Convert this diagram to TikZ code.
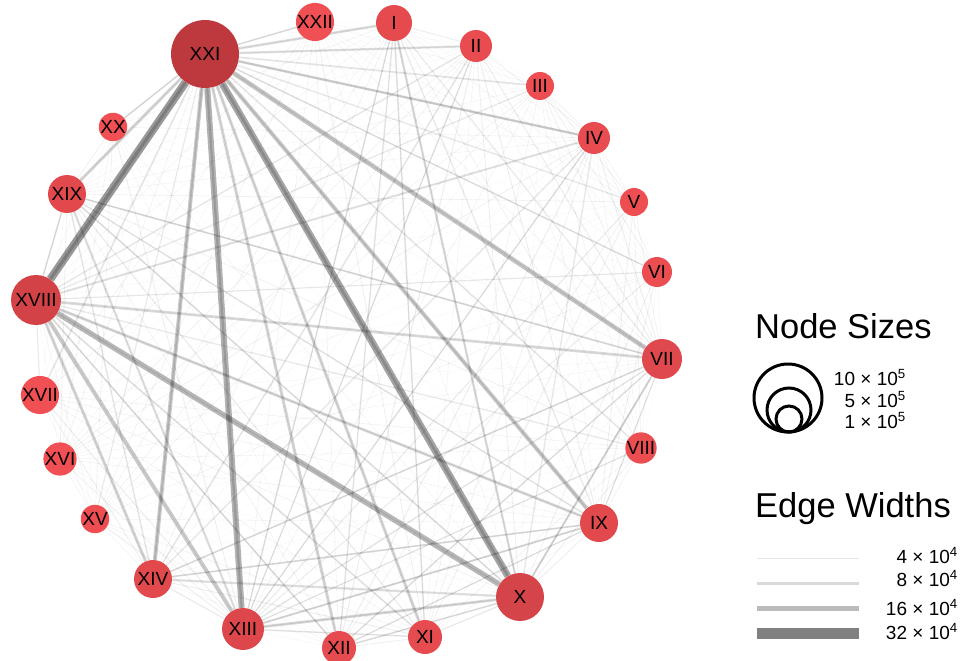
\documentclass[tikz,border=0pt]{standalone}
\usepackage{fontspec}
\setmainfont{Liberation Sans}
\pgfdeclarelayer{bg}
\pgfsetlayers{bg,main}
\definecolor{nlight}{HTML}{F04F53}
\definecolor{ndark}{HTML}{BD393D}
\begin{document}
\begin{tikzpicture}[x=1pt,y=-1pt,
  netnode/.style={circle, inner sep=0pt, font=\fontsize{19}{19}\selectfont},
  legtitle/.style={anchor=base west, inner sep=0pt, font=\fontsize{34.5}{34.5}\selectfont},
  leglabel/.style={anchor=base east, inner sep=0pt, font=\fontsize{19}{19}\selectfont}]
\useasboundingbox (0,0) rectangle (969,661);
\def\R{{18,16,14,16,14,15,20,15,19,24,17,17,21,19,14,13,13,25,19,13,34,13}}
\foreach \k/\x/\y/\r/\t in {1/394/23/18/I, 2/476/46/16/II, 3/540/86/14/III, 4/594/138/16/IV,
  5/634/202/14/V, 6/657/272/15/VI, 7/662/359/20/VII, 8/641/448/15/VIII, 9/599/523/19/IX,
  10/520/597/24/X, 11/425/637/17/XI, 12/339/648/17/XII, 13/243/629/21/XIII, 14/153/579/19/XIV,
  15/95/519/14/XV, 16/60/459/13/XVI, 17/40/395/13/XVII, 18/36/300/25/XVIII, 19/67/194/19/XIX,
  20/113/127/13/XX, 21/205/54/34/XXI, 22/315/22/13/XXII} {
  \pgfmathtruncatemacro\pct{100*(\r-13)/21}
  \pgfmathsetmacro\dd{2*\r}
  \node[netnode, minimum size=\dd pt, fill=ndark!\pct!nlight] (n\k) at (\x,\y) {\t};
}
\begin{pgfonlayer}{bg}
\pgfmathsetseed{7}
\foreach \i in {1,...,21} {
  \pgfmathtruncatemacro\jstart{\i+1}
  \foreach \j in {\jstart,...,22} {
    \pgfmathsetmacro\w{\R[\i-1]*\R[\j-1]/100*(0.3+1.2*rnd)}
    \pgfmathsetmacro\lw{\w/4}
    \pgfmathsetmacro\op{0.02+0.013*\w}
    \draw[line width=\lw pt, draw=black, draw opacity=\op] (n\i) -- (n\j);
  }
}
\foreach \a/\b/\w in {21/18/32, 21/10/28, 21/13/24, 18/10/22, 21/7/18, 21/9/16, 21/14/16,
  18/13/16, 21/12/12, 21/11/12, 21/19/12, 18/14/12, 18/7/11, 18/9/11, 21/1/10, 21/4/10,
  21/2/9, 13/10/11, 14/10/9, 19/13/9, 1/10/9, 4/18/8, 13/9/8, 14/9/7, 19/7/7, 19/10/7,
  12/7/6, 14/7/6, 1/13/6, 2/14/6, 11/18/7, 12/18/6, 21/8/6, 21/6/6, 10/7/7, 13/7/6,
  9/7/5, 10/12/6, 13/11/6, 1/12/6, 2/13/5, 19/9/6, 19/14/6, 18/19/6, 21/20/6, 21/22/5,
  8/13/5, 1/11/6, 4/13/5, 4/14/5, 6/18/5, 9/12/5} {
  \pgfmathsetmacro\lw{\w/4}
  \pgfmathsetmacro\op{0.015+0.012*\w}
  \draw[line width=\lw pt, draw=black, draw opacity=\op] (n\a) -- (n\b);
}
\end{pgfonlayer}
% legend: node sizes
\node[legtitle] (tsz) at (755,338) {Node Sizes};
\draw[line width=3pt] (788,398) circle[radius=34];
\draw[line width=3pt] (789,410) circle[radius=22];
\draw[line width=3pt] (789,419) circle[radius=13];
\node[leglabel] (s1) at (906,385) {10 × 10\textsuperscript{5}};
\node[leglabel] (s2) at (906,407) {5 × 10\textsuperscript{5}};
\node[leglabel] (s3) at (906,428) {1 × 10\textsuperscript{5}};
% legend: edge widths
\node[legtitle] (tew) at (755,517) {Edge Widths};
\draw[line width=1pt, draw={rgb,255:red,230;green,230;blue,230}] (757,558) -- (859,558);
\draw[line width=3pt, draw={rgb,255:red,217;green,217;blue,217}] (757,583) -- (859,583);
\draw[line width=5pt, draw={rgb,255:red,187;green,187;blue,187}] (757,608) -- (859,608);
\draw[line width=11pt, draw={rgb,255:red,128;green,128;blue,128}] (757,633) -- (859,633);
\node[leglabel] (e1) at (958,563) {4 × 10\textsuperscript{4}};
\node[leglabel] (e2) at (958,586) {8 × 10\textsuperscript{4}};
\node[leglabel] (e3) at (958,615) {16 × 10\textsuperscript{4}};
\node[leglabel] (e4) at (958,639) {32 × 10\textsuperscript{4}};
\end{tikzpicture}
\end{document}
